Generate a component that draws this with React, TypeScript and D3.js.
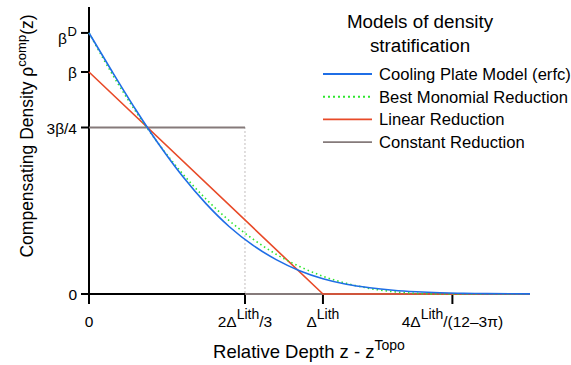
import React from "react";
import * as d3 from "d3";

// depth in units of Δ^Lith, density in units of β
const depthSamples = [0, 0.1, 0.2, 0.3, 0.4, 0.5, 0.6, 0.7, 0.8, 0.9, 1.0, 1.1, 1.2, 1.3, 1.4, 1.5, 1.6, 1.7, 1.885];
const coolingPlate = [1.176, 1.0, 0.83, 0.672, 0.53, 0.407, 0.303, 0.22, 0.155, 0.105, 0.069, 0.044, 0.028, 0.017, 0.01, 0.0055, 0.003, 0.0015, 0.0005];
const bestMonomial = [1.176, 0.989, 0.822, 0.673, 0.542, 0.428, 0.33, 0.248, 0.179, 0.124, 0.08, 0.048, 0.025, 0.0105, 0.003, 0.0001, 0, 0, 0];
const linearDepth = [0, 1.0, 1.885];
const linearValues = [1, 0, 0];
const constantDepth = [0, 0.6667];
const constantValues = [0.75, 0.75];
const constantTailDepth = [0.6667, 1.885];
const constantTailValues = [0, 0];

const yTicks = [
  { v: 0, main: "0", sup: "" },
  { v: 0.75, main: "3β/4", sup: "" },
  { v: 1, main: "β", sup: "" },
  { v: 1.176, main: "β", sup: "D" },
];
const xTicks = [
  { v: 0, pre: "0", sup: "", post: "" },
  { v: 0.6667, pre: "2Δ", sup: "Lith", post: "/3" },
  { v: 1, pre: "Δ", sup: "Lith", post: "" },
  { v: 1.5533, pre: "4Δ", sup: "Lith", post: "/(12–3π)" },
];
const legendItems = [
  { label: "Cooling Plate Model (erfc)", color: "#1f6ee6", dash: "" },
  { label: "Best Monomial Reduction", color: "#2ee62e", dash: "2,3" },
  { label: "Linear Reduction", color: "#e84a28", dash: "" },
  { label: "Constant Reduction", color: "#857a7a", dash: "" },
];

const BLUE = "#1f6ee6";
const GREEN = "#2ee62e";
const RED = "#e84a28";
const GRAY = "#857a7a";
const FONT = "'Liberation Sans', Arial, sans-serif";

export default function App() {
  const x = d3.scaleLinear().domain([0, 1.885]).range([89, 530]);
  const y = d3.scaleLinear().domain([0, 1]).range([294, 72]);
  const line = d3
    .line<[number, number]>()
    .x((d) => x(d[0]))
    .y((d) => y(d[1]))
    .curve(d3.curveMonotoneX);
  const straight = d3
    .line<[number, number]>()
    .x((d) => x(d[0]))
    .y((d) => y(d[1]));
  const zip = (a: number[], b: number[]) => a.map((v, i) => [v, b[i]] as [number, number]);

  return (
    <svg width={571} height={365} style={{ position: "absolute", left: 0, top: 0 }} fontFamily={FONT}>
      <rect width={571} height={365} fill="#fff" />
      {/* axes */}
      <line x1={x(0)} x2={x(0)} y1={7} y2={y(0) + 10} stroke="#000" strokeWidth={2} />
      <line x1={x(0) - 8} x2={x(1.885)} y1={y(0)} y2={y(0)} stroke="#000" strokeWidth={2} />
      {yTicks.map((t, i) => (
        <g key={i}>
          <line x1={x(0) - 8} x2={x(0)} y1={y(t.v)} y2={y(t.v)} stroke="#000" strokeWidth={2} />
          {t.sup ? (
            <>
              <text x={67} y={y(t.v) + 11} textAnchor="end" fontSize={15.5}>
                {t.main}
              </text>
              <text x={67.5} y={y(t.v) + 3} fontSize={13}>
                {t.sup}
              </text>
            </>
          ) : (
            <text x={77} y={y(t.v) + 6} textAnchor="end" fontSize={15.5}>
              {t.main}
            </text>
          )}
        </g>
      ))}
      {xTicks.map((t, i) => (
        <g key={i}>
          <line x1={x(t.v)} x2={x(t.v)} y1={y(0)} y2={y(0) + 10} stroke="#000" strokeWidth={2} />
          <text x={x(t.v)} y={327} textAnchor="middle" fontSize={15.5}>
            {t.pre}
            {t.sup && (
              <tspan dy={-8} fontSize={14}>
                {t.sup}
              </tspan>
            )}
            {t.post && <tspan dy={t.sup ? 8 : 0}>{t.post}</tspan>}
          </text>
        </g>
      ))}
      {/* constant reduction */}
      <path d={straight(zip(constantTailDepth, constantTailValues)) || ""} fill="none" stroke={GRAY} strokeWidth={2} />
      <path d={straight(zip(constantDepth, constantValues)) || ""} fill="none" stroke={GRAY} strokeWidth={2} />
      <line x1={x(0.6667)} x2={x(0.6667)} y1={y(0.75)} y2={y(0)} stroke={GRAY} strokeWidth={1} strokeDasharray="1,3" />
      {/* linear */}
      <path d={straight(zip(linearDepth, linearValues)) || ""} fill="none" stroke={RED} strokeWidth={1.6} />
      {/* monomial */}
      <path d={line(zip(depthSamples, bestMonomial)) || ""} fill="none" stroke={GREEN} strokeWidth={1.6} strokeDasharray="1.5,3" />
      {/* cooling plate */}
      <path d={line(zip(depthSamples, coolingPlate)) || ""} fill="none" stroke={BLUE} strokeWidth={1.6} />

      {/* axis titles */}
      <text x={309} y={358} textAnchor="middle" fontSize={18.5}>
        Relative Depth z - z<tspan dy={-8} fontSize={14}>Topo</tspan>
      </text>
      <text transform="translate(33,136) rotate(-90)" textAnchor="middle" fontSize={17.5}>
        Compensating Density ρ<tspan dy={-7} fontSize={13}>comp</tspan>
        <tspan dy={7}>(z)</tspan>
      </text>

      {/* legend */}
      <text x={420} y={28} textAnchor="middle" fontSize={18.8}>Models of density</text>
      <text x={420} y={52} textAnchor="middle" fontSize={18.8}>stratification</text>
      {legendItems.map((it, i) => {
        const yy = 74 + i * 22.7;
        return (
          <g key={i}>
            <line x1={323} x2={372} y1={yy} y2={yy} stroke={it.color} strokeWidth={it.dash ? 2 : 1.8} strokeDasharray={it.dash || undefined} />
            <text x={379} y={yy + 6} fontSize={16.6}>
              {it.label}
            </text>
          </g>
        );
      })}
    </svg>
  );
}
